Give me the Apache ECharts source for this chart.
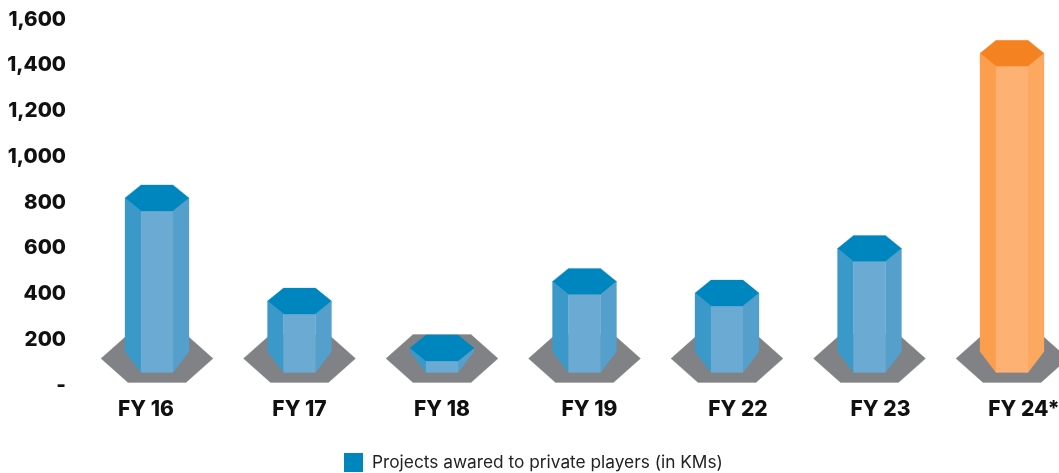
<!DOCTYPE html>
<html><head><meta charset="utf-8">
<style>html,body{margin:0;padding:0;background:#fff}#c{width:1059px;height:473px}</style>
<script src="https://cdn.jsdelivr.net/npm/echarts@6/dist/echarts.min.js"></script>
</head><body><div id="c"></div>
<script>
const categories = ['FY 16','FY 17','FY 18','FY 19','FY 22','FY 23','FY 24*'];
const values = [820, 369, 164, 455, 404, 599, 1452];
const yTicks = {min:0, max:1600, interval:200};
const labelShift = [-11, 0, 0, 5, 11, 11, 12];
const seriesName = 'Projects awared to private players (in KMs)';
const blue = {top:'#0086BE', left:'#3A99C9', mid:'#6BABD3', right:'#549FCB'};
const orange = {top:'#F58220', left:'#FD9E4F', mid:'#FDB173', right:'#FCA85F'};
const baseGrey = '#808285';
const highlightIndex = 6;

const chart = echarts.init(document.getElementById('c'), null, {renderer:'canvas'});
function poly(points, fill, z2){
  return {type:'polygon', z2, shape:{points}, style:{fill, stroke:fill, lineWidth:0.3}, silent:true};
}
function renderItem(params, api){
  const i = api.value(0);
  const [cx, topY] = api.coord([i, api.value(1)]);
  const zeroY = api.coord([i, 0])[1];
  const pal = i === highlightIndex ? orange : blue;
  const baseY = zeroY - 27;
  const frontB = zeroY - 13, outerB = Math.max(zeroY - 34, topY);
  const d = 13, o = 32, e = 16;
  return {type:'group', children:[
    poly([[cx-56,baseY],[cx-29,baseY-24],[cx+29,baseY-24],[cx+56,baseY],[cx+29,baseY+24],[cx-29,baseY+24]], baseGrey, 1),
    poly([[cx-o,topY],[cx-e,topY+d],[cx-e,frontB],[cx-o,outerB]], pal.left, 2),
    poly([[cx+o,topY],[cx+e,topY+d],[cx+e,frontB],[cx+o,outerB]], pal.right, 2),
    poly([[cx-e,topY+d],[cx+e,topY+d],[cx+e,frontB],[cx-e,frontB]], pal.mid, 2),
    poly([[cx-o,topY],[cx-e,topY-d],[cx+e,topY-d],[cx+o,topY],[cx+e,topY+d],[cx-e,topY+d]], pal.top, 3)
  ]};
}
chart.setOption({
  animation:false,
  backgroundColor:'#fff',
  grid:{left:157, right:47, top:19.5, height:366, outerBoundsMode:'none'},
  legend:{
    left:344, top:453, padding:0, icon:'rect', itemWidth:19, itemHeight:19, itemGap:9,
    selectedMode:false,
    textStyle:{fontFamily:'Inter', fontSize:17.3, color:'#222', padding:[0,0,6,4]},
    data:[{name:seriesName, itemStyle:{color:blue.top}}]
  },
  xAxis:{
    type:'category', boundaryGap:false,
    data:categories.map((c,i)=>({value:c, textStyle:{
      padding: labelShift[i] < 0 ? [2,-2*labelShift[i],0,0] : [2,0,0,2*labelShift[i]]
    }})),
    axisLine:{show:false}, axisTick:{show:false},
    axisLabel:{fontFamily:'Inter', fontWeight:800, fontSize:21, color:'#111', margin:12, interval:0, hideOverlap:false}
  },
  yAxis:{
    type:'value', min:yTicks.min, max:yTicks.max, interval:yTicks.interval,
    axisLine:{show:false}, axisTick:{show:false}, splitLine:{show:false},
    axisLabel:{fontFamily:'Inter', fontWeight:800, fontSize:20.5, color:'#111', margin:91, padding:[2,0,0,0],
      formatter:v => v === 0 ? '-' : v.toLocaleString('en-US')}
  },
  series:[{
    type:'custom', name:seriesName, clip:false, renderItem,
    itemStyle:{color:blue.top},
    encode:{x:0,y:1},
    data:values.map((v,i)=>[i,v])
  }]
});
</script></body></html>
